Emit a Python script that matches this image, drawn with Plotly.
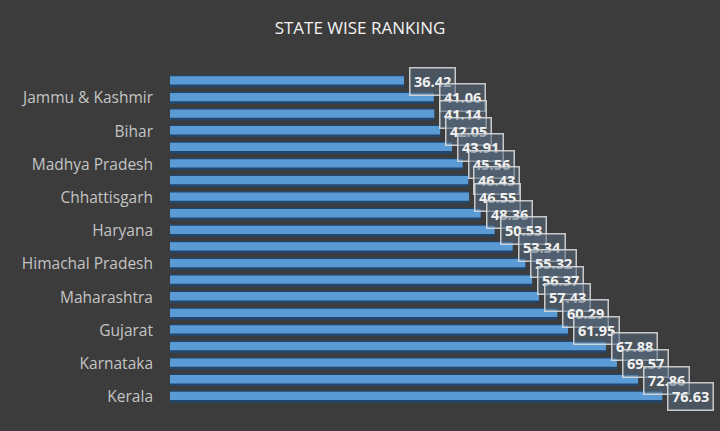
import plotly.graph_objects as go

# Data (top to bottom as displayed)
rank_pos = list(range(20))
state_labels = ["", "Jammu & Kashmir", "", "Bihar", "", "Madhya Pradesh", "", "Chhattisgarh",
                "", "Haryana", "", "Himachal Pradesh", "", "Maharashtra", "", "Gujarat",
                "", "Karnataka", "", "Kerala"]
scores = [36.42, 41.06, 41.14, 42.05, 43.91, 45.56, 46.43, 46.55, 48.36, 50.53,
          53.34, 55.32, 56.37, 57.43, 60.29, 61.95, 67.88, 69.57, 72.86, 76.63]
title_text = "STATE WISE RANKING"

BG = "#3c3c3c"
fig = go.Figure()

# shadow bar
fig.add_trace(go.Bar(
    x=scores, y=rank_pos, orientation="h",
    width=0.74, offset=-0.38,
    marker=dict(color="#23466d", line=dict(width=0)),
    hoverinfo="skip", showlegend=False,
))
# main bar
fig.add_trace(go.Bar(
    x=scores, y=rank_pos, orientation="h",
    width=0.5, offset=-0.3,
    marker=dict(color="#5b9bd5", line=dict(width=0)),
    hoverinfo="skip", showlegend=False,
))

annotations = []
for v, p in zip(scores, rank_pos):
    annotations.append(dict(
        x=v, y=p, xref="x", yref="y", text=f"<b>{v:.2f}</b>",
        showarrow=False, xanchor="left", yanchor="middle", xshift=5,
        font=dict(family="Open Sans", size=14.5, color="#f2f2f2"),
        bgcolor="rgba(85,105,125,0.55)", bordercolor="rgba(225,225,225,0.85)",
        borderwidth=1.5, borderpad=3.5,
    ))

tick_vals = [p for p, s in zip(rank_pos, state_labels) if s]
tick_text = [s for s in state_labels if s]

fig.update_layout(
    width=720, height=431,
    paper_bgcolor=BG, plot_bgcolor=BG,
    margin=dict(l=170, r=20, t=73, b=26, autoexpand=False),
    barmode="overlay",
    title=dict(text=title_text, x=0.5, xanchor="center", y=0.935, yanchor="middle",
               font=dict(family="Open Sans", size=17, color="#f2f2f2")),
    xaxis=dict(visible=False, range=[0, 82.5], showgrid=False, zeroline=False),
    yaxis=dict(autorange=False, range=[19.5, -0.5], showgrid=False, zeroline=False,
               automargin=False,
               tickvals=tick_vals, ticktext=tick_text, ticks="",
               ticklabelstandoff=16,
               tickfont=dict(family="Open Sans", size=15.5, color="#c4c4c4")),
    annotations=annotations,
)

fig.write_html("out.html", config={"displayModeBar": False},
               post_script="document.body.style.margin='0';")
